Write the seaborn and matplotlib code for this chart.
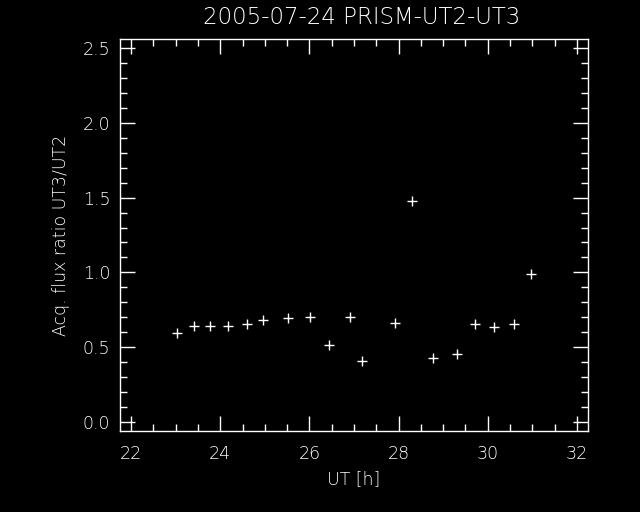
import matplotlib
matplotlib.use("Agg")
import matplotlib.pyplot as plt
from matplotlib.ticker import MultipleLocator
import seaborn as sns
import pandas as pd

ut_hours = [23.04, 23.42, 23.78, 24.18, 24.59, 24.95, 25.53, 26.02, 26.45, 26.90,
            27.19, 27.93, 28.31, 28.78, 29.30, 29.72, 30.13, 30.58, 30.96]
flux_ratio = [0.595, 0.642, 0.642, 0.642, 0.655, 0.682, 0.695, 0.702, 0.515, 0.702,
              0.408, 0.662, 1.477, 0.428, 0.455, 0.655, 0.635, 0.655, 0.989]
x_ticks = [22, 24, 26, 28, 30, 32]
y_ticks = [0.0, 0.5, 1.0, 1.5, 2.0, 2.5]

sns.set_theme(style="ticks")
plt.rcParams['font.family'] = ['DejaVu Sans']
plt.rcParams['figure.facecolor'] = 'black'
plt.rcParams['axes.facecolor'] = 'black'

df = pd.DataFrame({"ut": ut_hours, "ratio": flux_ratio})

fig = plt.figure(figsize=(6.4, 5.12), dpi=100)
ax = fig.add_axes([120/640, 81/512, 468/640, 392/512])
sns.scatterplot(data=df, x="ut", y="ratio", marker="+", s=50, color="white",
                linewidth=1.0, ax=ax, legend=False)

ax.set_xlim(21.75, 32.25)
ax.set_ylim(-0.06, 2.56)
ax.set_xticks(x_ticks)
ax.set_yticks(y_ticks)
ax.set_xticklabels([str(t) for t in x_ticks])
ax.set_yticklabels([f"{t:.1f}" for t in y_ticks])
ax.xaxis.set_minor_locator(MultipleLocator(0.5))
ax.yaxis.set_minor_locator(MultipleLocator(0.1))
ax.tick_params(which='both', direction='in', top=True, right=True, colors='white',
               labelcolor='white', width=1, labelsize=12.5)
ax.tick_params(which='major', length=11)
ax.tick_params(which='minor', length=5)
ax.tick_params(axis='x', pad=10)
ax.tick_params(axis='y', pad=7)
for lbl in ax.get_xticklabels() + ax.get_yticklabels():
    lbl.set_fontweight('light')
for s in ax.spines.values():
    s.set_color('white')
    s.set_linewidth(1)

ax.set_xlabel("UT [h]", color='white', fontsize=12.5, fontweight='light', labelpad=5)
ax.set_ylabel("Acq. flux ratio UT3/UT2", color='white', fontsize=12.5, fontweight='light', labelpad=9)
fig.text(362/640, 1 - 18/512, "2005-07-24 PRISM-UT2-UT3", color='white', fontsize=16.5,
         fontweight='light', ha='center', va='center')

fig.savefig("out.png", dpi=100, facecolor='black')
